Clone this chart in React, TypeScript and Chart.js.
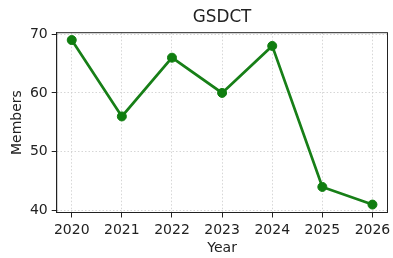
import React, { useEffect, useRef } from "react";
import { Chart, registerables } from "chart.js";

Chart.register(...registerables);

const title = "GSDCT";
const xLabel = "Year";
const yLabel = "Members";
const years = [2020, 2021, 2022, 2023, 2024, 2025, 2026];
const members = [69, 56, 66, 60, 68, 44, 41];
const yTicks = [40, 50, 60, 70];

const FONT = "'DejaVu Sans', sans-serif";

export default function App() {
  const ref = useRef<HTMLCanvasElement | null>(null);

  useEffect(() => {
    document.body.style.margin = "0";
    const canvas = ref.current;
    if (!canvas) return;

    const framePlugin = {
      id: "frame",
      afterDraw(chart: any) {
        const { ctx, chartArea } = chart;
        const { left, right, top, bottom } = chartArea;
        ctx.save();
        ctx.strokeStyle = "#222";
        ctx.lineWidth = 1;
        ctx.strokeRect(left, top, right - left, bottom - top);
        ctx.fillStyle = "#222";
        ctx.textAlign = "center";
        ctx.textBaseline = "middle";
        const cx = (left + right) / 2;
        ctx.font = `16.8px ${FONT}`;
        ctx.fillText(title, cx, 17.5);
        ctx.font = `14px ${FONT}`;
        ctx.fillText(xLabel, cx, 248);
        ctx.translate(17, (top + bottom) / 2);
        ctx.rotate(-Math.PI / 2);
        ctx.fillText(yLabel, 0, 0);
        ctx.restore();
      },
    };

    const chart = new Chart(canvas, {
      type: "line",
      data: {
        datasets: [
          {
            data: years.map((y, i) => ({ x: y, y: members[i] })),
            borderColor: "#177f17",
            backgroundColor: "#137d13",
            borderWidth: 2.7,
            pointRadius: 4.5,
            pointBorderWidth: 1,
            pointBackgroundColor: "#0f7d0f",
            pointBorderColor: "#0f7d0f",
            tension: 0,
          },
        ],
      },
      options: {
        responsive: false,
        animation: false,
        events: [],
        layout: { padding: { left: 0, right: 3.7, top: 32.7, bottom: 0 } },
        plugins: {
          legend: { display: false },
          title: { display: false },
          tooltip: { enabled: false },
        },
        scales: {
          x: {
            type: "linear",
            min: 2019.7,
            max: 2026.3,
            afterBuildTicks: (scale: any) => {
              scale.ticks = years.map((v) => ({ value: v }));
            },
            afterFit: (scale: any) => {
              scale.height = 45.5;
              scale.paddingLeft = 0;
              scale.paddingRight = 0;
            },
            ticks: {
              color: "#222",
              font: { family: FONT, size: 14 },
              padding: 4.5,
              maxRotation: 0,
              autoSkip: false,
              callback: (v: any) => String(v),
            },
            grid: {
              color: "#cccccc",
              lineWidth: 0.8,
              tickColor: "#222",
              tickLength: 5,
              tickWidth: 1,
            },
            border: { display: true, color: "#222", dash: [1.5, 2], width: 1 },
          },
          y: {
            type: "linear",
            min: 39.65,
            max: 70.25,
            afterBuildTicks: (scale: any) => {
              scale.ticks = yTicks.map((v) => ({ value: v }));
            },
            afterFit: (scale: any) => {
              scale.width = 56.7;
              scale.paddingTop = 0;
              scale.paddingBottom = 0;
            },
            ticks: {
              color: "#222",
              font: { family: FONT, size: 14 },
              padding: 4,
              callback: (v: any) => String(v),
            },
            grid: {
              color: "#cccccc",
              lineWidth: 0.8,
              tickColor: "#222",
              tickLength: 5,
              tickWidth: 1,
            },
            border: { display: true, color: "#222", dash: [1.5, 2], width: 1 },
          },
        },
      },
      plugins: [framePlugin],
    } as any);

    return () => chart.destroy();
  }, []);

  return <canvas ref={ref} width={393} height={258} style={{ display: "block" }} />;
}
